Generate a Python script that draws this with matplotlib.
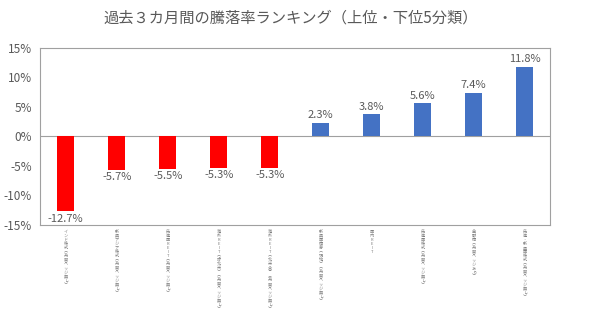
import matplotlib.pyplot as plt
import numpy as np

plt.rcParams['font.family'] = ['Noto Sans CJK JP', 'DejaVu Sans']

# data
categories = [
    'インド株式︵為替ヘッジ無し︶',
    '新興アジア株式︵為替ヘッジ無し︶',
    '先進国REIT︵為替ヘッジ無し︶',
    '海外REIT︵除北米︶︵為替ヘッジ無し︶',
    '海外REIT︵北米含︶︵為替ヘッジ無し︶',
    '新興国債券︵現地︶︵為替ヘッジ無し︶',
    '国内REIT',
    '先進国株式︵為替ヘッジ無し︶',
    '金融債︵為替ヘッジあり︶',
    '先進・新興国株式︵為替ヘッジ無し︶',
]
values = [-12.7, -5.7, -5.5, -5.3, -5.3, 2.3, 3.8, 5.6, 7.4, 11.8]
bar_colors = ['#FF0000'] * 5 + ['#4472C4'] * 5
yticks = [-15, -10, -5, 0, 5, 10, 15]

text_color = '#595959'

fig = plt.figure(figsize=(6, 3.26), dpi=100)
ax = fig.add_axes([0.067, 0.31, 0.85, 0.543])

x = np.arange(len(values))
bars = ax.bar(x, values, width=0.33, color=bar_colors, zorder=2)

# value labels: below negative bars, above positive bars
for xi, v in zip(x, values):
    if v < 0:
        ax.text(xi, v - 0.4, f'{v:.1f}%', ha='center', va='top',
                fontsize=8, color=text_color)
    else:
        ax.text(xi, v + 0.4, f'{v:.1f}%', ha='center', va='bottom',
                fontsize=8, color=text_color)

ax.axhline(0, color='#A0A0A0', lw=0.8, zorder=1)

ax.set_xlim(-0.5, len(values) - 0.5)
ax.set_ylim(-15, 15)
ax.set_yticks(yticks)
ax.set_yticklabels([f'{t}%' for t in yticks], fontsize=8.5, color=text_color)
ax.tick_params(axis='y', length=0, pad=6)
ax.set_xticks([])

for s in ax.spines.values():
    s.set_color('#A0A0A0')
    s.set_linewidth(0.8)

# vertical (stacked) category labels below the axes
for xi, lab in zip(x, categories):
    ax.text(xi, -15.8, '\n'.join(lab), ha='center', va='top',
            fontsize=3.0, linespacing=1.0, color='#808080')

fig.text(0.485, 0.945, '過去３カ月間の騰落率ランキング（上位・下位5分類）',
         ha='center', va='center', fontsize=11, color=text_color)

fig.savefig('out.png', dpi=100)
